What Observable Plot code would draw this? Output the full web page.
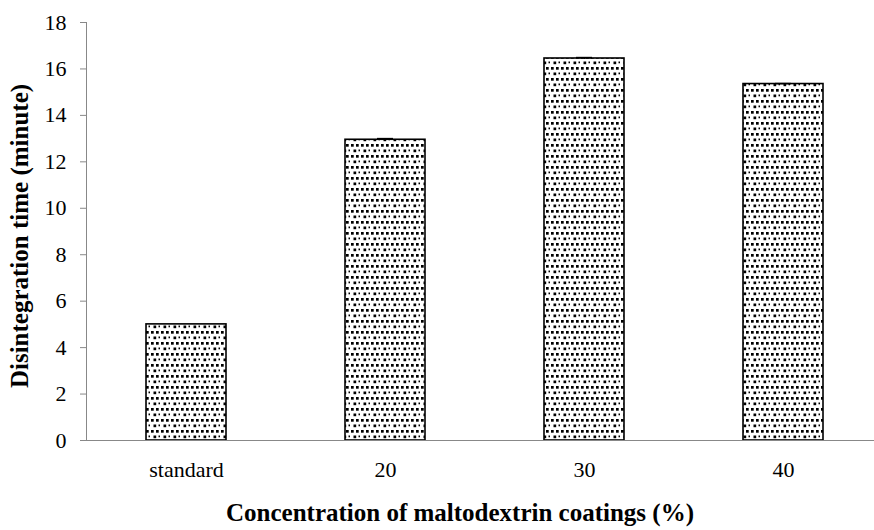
<!DOCTYPE html>
<html>
<head>
<meta charset="utf-8">
<script src="https://cdn.jsdelivr.net/npm/d3@7"></script>
<script src="https://cdn.jsdelivr.net/npm/@observablehq/plot@0.6"></script>
<style>
  html, body { margin: 0; padding: 0; background: #fff; }
  #chart { width: 874px; height: 530px; }
  #chart svg text { font-family: "Liberation Serif", "Times New Roman", serif; }
</style>
</head>
<body>
<div id="chart"></div>
<script>
const categories = ["standard", "20", "30", "40"];
const values = [5.0, 12.95, 16.45, 15.35];
const errors = [0.0, 0.05, 0.04, 0.02];
const yTicks = [0, 2, 4, 6, 8, 10, 12, 14, 16, 18];
const xTitle = "Concentration of maltodextrin coatings (%)";
const yTitle = "Disintegration time (minute)";

const data = categories.map((c, i) => ({ cat: c, v: values[i], e: errors[i] }));

const font = "Liberation Serif";

const svg = Plot.plot({
  width: 874,
  height: 530,
  marginLeft: 86,
  marginRight: 0,
  marginTop: 22,
  marginBottom: 90,
  style: { fontFamily: font, fontSize: "22px", color: "#000", background: "#fff" },
  x: { domain: categories, range: [86, 883], paddingInner: 0.6, paddingOuter: 0.3, label: null },
  y: { domain: [0, 18], ticks: yTicks, label: null },
  marks: [
    Plot.barY(data, { x: "cat", y: "v", fill: "url(#dots)", stroke: "#000", strokeWidth: 1.6 }),
    Plot.ruleX(data.filter(d => d.e > 0), { x: "cat", y1: d => d.v - d.e, y2: d => d.v + d.e, stroke: "#000", strokeWidth: 1 }),
    Plot.tickY(data.filter(d => d.e > 0), { x: "cat", y: d => d.v + d.e, stroke: "#000", strokeWidth: 1.5, inset: 32 }),
    Plot.ruleY([0], { stroke: "#888", strokeWidth: 1 }),
    Plot.axisY({ ticks: yTicks, tickSize: 6, tickPadding: 14, stroke: "#888", fontSize: 22, fontFamily: font, label: null }),
    Plot.axisX({ tickSize: 0, tickPadding: 21, fontSize: 22, fontFamily: font, label: null }),
    Plot.frame({ anchor: "left", stroke: "#888" })
  ]
});

const s = d3.select(svg);
const defs = s.insert("defs", ":first-child");
const pat = defs.append("pattern")
  .attr("id", "dots")
  .attr("patternUnits", "userSpaceOnUse")
  .attr("width", 10).attr("height", 11);
pat.append("rect").attr("width", 10).attr("height", 11).attr("fill", "#fff");
pat.append("rect").attr("x", 1).attr("y", 1).attr("width", 2.7).attr("height", 2.7).attr("fill", "#000");
pat.append("rect").attr("x", 6).attr("y", 1).attr("width", 2.7).attr("height", 2.7).attr("fill", "#000");
pat.append("rect").attr("x", 3.5).attr("y", 6.5).attr("width", 2.7).attr("height", 2.7).attr("fill", "#000");
pat.append("rect").attr("x", 8.5).attr("y", 6.5).attr("width", 2.2).attr("height", 1.8).attr("fill", "#000");

s.append("text")
  .attr("x", 460).attr("y", 521)
  .attr("text-anchor", "middle")
  .attr("font-family", font).attr("font-weight", "bold").attr("font-size", 25)
  .attr("fill", "#000")
  .text(xTitle);

s.append("text")
  .attr("transform", "translate(28,236) rotate(-90)")
  .attr("text-anchor", "middle")
  .attr("font-family", font).attr("font-weight", "bold").attr("font-size", 25)
  .attr("fill", "#000")
  .text(yTitle);

document.getElementById("chart").appendChild(svg);
</script>
</body>
</html>
